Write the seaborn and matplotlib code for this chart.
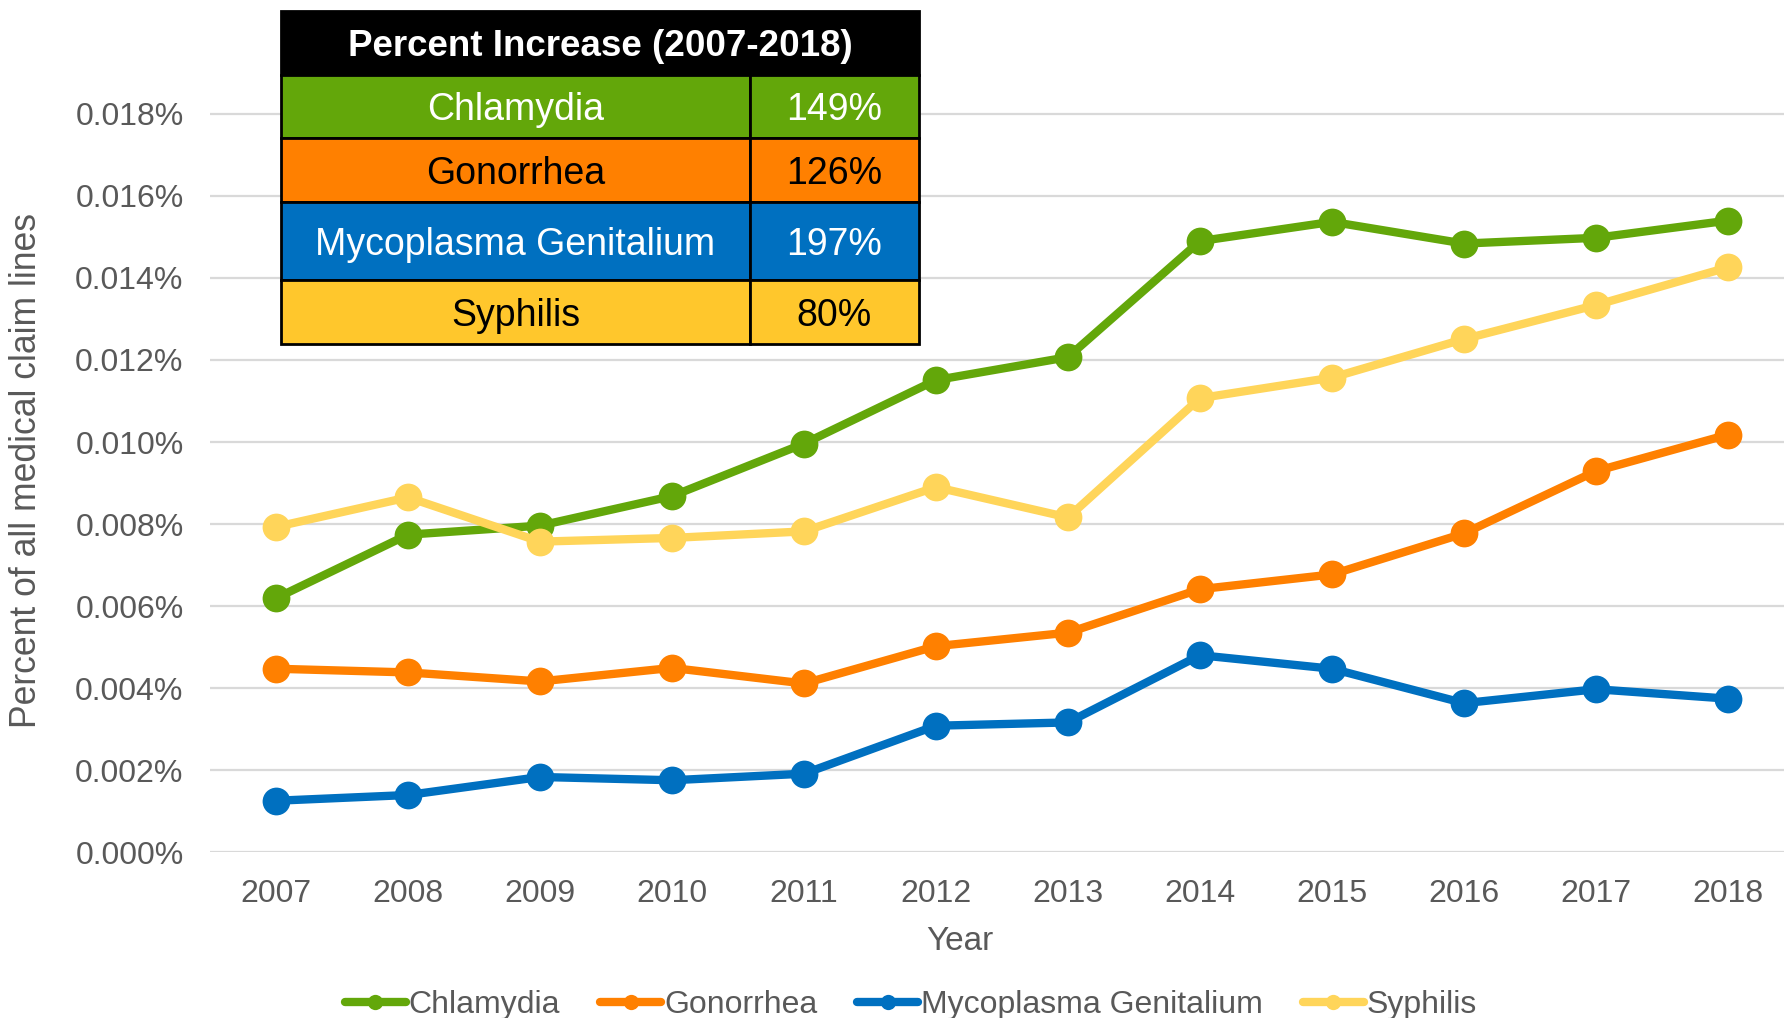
import matplotlib
matplotlib.use("Agg")
import matplotlib.pyplot as plt
import seaborn as sns
import pandas as pd
from matplotlib.patches import Rectangle
from matplotlib.lines import Line2D

years = [2007, 2008, 2009, 2010, 2011, 2012, 2013, 2014, 2015, 2016, 2017, 2018]
chlamydia = [0.00619, 0.00774, 0.00796, 0.00868, 0.00996, 0.01151, 0.01207, 0.01490, 0.01537, 0.01484, 0.01498, 0.01540]
gonorrhea = [0.00447, 0.00438, 0.00416, 0.00449, 0.00411, 0.00502, 0.00535, 0.00641, 0.00677, 0.00777, 0.00929, 0.01018]
mycoplasma = [0.00125, 0.00139, 0.00183, 0.00175, 0.00191, 0.00308, 0.00316, 0.00480, 0.00447, 0.00363, 0.00397, 0.00374]
syphilis = [0.00793, 0.00865, 0.00757, 0.00766, 0.00782, 0.00890, 0.00816, 0.01107, 0.01157, 0.01251, 0.01334, 0.01426]
series_names = ["Chlamydia", "Gonorrhea", "Mycoplasma Genitalium", "Syphilis"]
yticks = [0.000, 0.002, 0.004, 0.006, 0.008, 0.010, 0.012, 0.014, 0.016, 0.018]
table_header = "Percent Increase (2007-2018)"
table_increase = ["149%", "126%", "197%", "80%"]

line_colors = ["#63A70A", "#FF8000", "#0070C0", "#FFD55A"]
table_colors = ["#63A70A", "#FF8000", "#0070C0", "#FFC72C"]
table_text_colors = ["white", "black", "white", "black"]

df = pd.DataFrame({
    "Year": years * 4,
    "value": chlamydia + gonorrhea + mycoplasma + syphilis,
    "series": sum([[n] * len(years) for n in series_names], []),
})

sns.set_theme(style="white")
plt.rcParams["font.family"] = ["Liberation Sans", "DejaVu Sans"]

W, H = 1784, 1018
fig = plt.figure(figsize=(W / 100, H / 100), dpi=100)

def fx(px):
    return px / W

def fy(py):
    return 1 - py / H

y0_px, y018_px = 852, 114
ytop = 0.019
top_px = y0_px - (y0_px - y018_px) * ytop / 0.018
ax = fig.add_axes([fx(210), fy(y0_px), (1794 - 210) / W, (y0_px - top_px) / H])

sns.lineplot(data=df, x="Year", y="value", hue="series", hue_order=series_names,
             palette=line_colors, marker="o", markersize=20, linewidth=6,
             markeredgewidth=0, ax=ax, legend=False, zorder=3)

ax.set_xlim(2006.5, 2018.5)
ax.set_ylim(0, ytop)
ax.set_xticks(years)
ax.set_xticklabels([str(y) for y in years])
ax.set_yticks(yticks)
ax.set_yticklabels([f"{v:.3f}%" for v in yticks])
ax.tick_params(axis="both", length=0, labelsize=23, labelcolor="#595959")
ax.tick_params(axis="x", pad=19.5)
ax.tick_params(axis="y", pad=19)
ax.grid(axis="y", color="#D9D9D9", linewidth=1.6, zorder=0)
ax.grid(axis="x", visible=False)
for s in ax.spines.values():
    s.set_visible(False)
ax.set_xlabel("")
ax.set_ylabel("")

fig.text(fx(960), fy(941), "Year", ha="center", va="center", fontsize=24, color="#595959")
fig.text(fx(27), fy(471), "Percent of all medical claim lines", ha="center", va="center",
         rotation=90, fontsize=25.6, color="#595959")

# Table
tx0, tx1, tdiv = 281, 919, 750
rows = [11, 75, 138, 202, 280, 344]
fig.patches.append(Rectangle((fx(tx0), fy(rows[1])), (tx1 - tx0) / W, (rows[1] - rows[0]) / H,
                             transform=fig.transFigure, facecolor="black", edgecolor="black",
                             linewidth=2, zorder=5))
fig.text(fx((tx0 + tx1) / 2), fy((rows[0] + rows[1]) / 2 + 4), table_header, ha="center",
         va="center", fontsize=26.5, color="white", fontweight="bold", zorder=6)
for i in range(4):
    r0, r1 = rows[i + 1], rows[i + 2]
    for (a, b) in [(tx0, tdiv), (tdiv, tx1)]:
        fig.patches.append(Rectangle((fx(a), fy(r1)), (b - a) / W, (r1 - r0) / H,
                                     transform=fig.transFigure, facecolor=table_colors[i],
                                     edgecolor="black", linewidth=2, zorder=5))
    cy = fy((r0 + r1) / 2 + 4)
    fig.text(fx((tx0 + tdiv) / 2), cy, series_names[i], ha="center", va="center",
             fontsize=27, color=table_text_colors[i], zorder=6)
    fig.text(fx((tdiv + tx1) / 2), cy, table_increase[i], ha="center", va="center",
             fontsize=27, color=table_text_colors[i], zorder=6)

# Legend
handles = [Line2D([0], [0], color=c, linewidth=6, marker="o", markersize=11,
                  markeredgewidth=0) for c in line_colors]
fig.legend(handles, series_names, loc="center", bbox_to_anchor=(fx(911), fy(1005)),
           ncol=4, frameon=False, fontsize=23, labelcolor="#595959",
           handlelength=1.9, handletextpad=0.1, columnspacing=1.25)

fig.savefig("out.png", dpi=100)
